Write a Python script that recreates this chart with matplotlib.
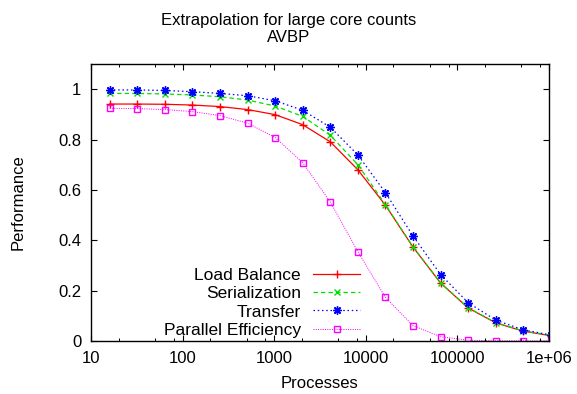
import matplotlib
matplotlib.use("Agg")
import matplotlib.pyplot as plt
import numpy as np
from matplotlib.ticker import FixedLocator, NullFormatter

plt.rcParams['font.family'] = ['Liberation Sans', 'DejaVu Sans']
plt.rcParams['font.size'] = 11

processes = [16, 32, 64, 128, 256, 512, 1024, 2048, 4096, 8192, 16384,
             32768, 65536, 131072, 262144, 524288, 1048576]
load_balance = [0.941, 0.941, 0.940, 0.937, 0.931, 0.919, 0.899, 0.859, 0.791,
                0.680, 0.539, 0.373, 0.230, 0.131, 0.072, 0.039, 0.021]
serialization = [0.983, 0.983, 0.981, 0.977, 0.970, 0.957, 0.933, 0.892, 0.817,
                 0.700, 0.541, 0.374, 0.231, 0.132, 0.073, 0.040, 0.022]
transfer = [0.997, 0.997, 0.995, 0.990, 0.983, 0.974, 0.954, 0.916, 0.849,
            0.739, 0.589, 0.417, 0.264, 0.152, 0.083, 0.044, 0.024]
parallel_eff = [0.924, 0.923, 0.919, 0.911, 0.895, 0.865, 0.808, 0.708, 0.552,
                0.355, 0.173, 0.061, 0.017, 0.003, 0.001, 0.0005, 0.0002]

labels = ["Load Balance", "Serialization", "Transfer", "Parallel Efficiency"]
xticks = [10, 100, 1000, 10000, 100000, 1000000]
xticklabels = ["10", "100", "1000", "10000", "100000", "1e+06"]
yticks = [0, 0.2, 0.4, 0.6, 0.8, 1.0]
yticklabels = ["0", "0.2", "0.4", "0.6", "0.8", "1"]

fig = plt.figure(figsize=(5.77, 3.94), dpi=100)
ax = fig.add_axes([91/577, 53/394, 458/577, 277/394])

lw = 0.9
ax.plot(processes, load_balance, color='#ff0000', lw=lw, linestyle='-',
        marker='+', markersize=6, markeredgewidth=1.0, label=labels[0])
ax.plot(processes, serialization, color='#00e000', lw=lw, linestyle=(0, (3.5, 2.5)),
        marker='x', markersize=5, markeredgewidth=1.0, label=labels[1])
ax.plot(processes, transfer, color='#0000ff', lw=lw, linestyle=(0, (1.2, 2.2)),
        marker=(8, 2, 0), markersize=6, markeredgewidth=1.0, label=labels[2])
ax.plot(processes, parallel_eff, color='#ff00ff', lw=lw*0.8, linestyle=(0, (1, 1.3)),
        marker='s', markersize=5, markerfacecolor='none', markeredgewidth=1.0,
        label=labels[3])

ax.set_xscale('log')
ax.set_xlim(10, 1e6)
ax.set_ylim(0, 1.1)
ax.xaxis.set_major_locator(FixedLocator(xticks))
ax.set_xticklabels(xticklabels)
minors = [m * 10**e for e in range(1, 6) for m in (2, 5, 8)]
ax.xaxis.set_minor_locator(FixedLocator(minors))
ax.xaxis.set_minor_formatter(NullFormatter())
ax.set_yticks(yticks)
ax.set_yticklabels(yticklabels)

ax.tick_params(which='both', direction='in', top=True, right=True)
ax.tick_params(which='major', length=4, width=0.8, pad=7, labelsize=12)
ax.tick_params(which='minor', length=2.2, width=0.7)
for s in ax.spines.values():
    s.set_linewidth(1.0)

ax.set_xlabel("Processes", fontsize=12)
ax.set_ylabel("Performance", fontsize=12)
ax.xaxis.set_label_coords(0.5, (341 - 383) / 277)
ax.yaxis.set_label_coords((18 - 91) / 458, 0.5)
ax.xaxis.label.set_va('center')
ax.yaxis.label.set_va('center')

fig.text(0.5, 1 - 20/394, "Extrapolation for large core counts", ha='center',
         va='center', fontsize=12)
fig.text(0.5, 1 - 37/394, "AVBP", ha='center', va='center', fontsize=12)

leg = ax.legend(loc='lower right', bbox_to_anchor=((360-91)/458, 0.012),
                frameon=False, markerfirst=False, handlelength=2.7,
                handletextpad=0.7, labelspacing=0.17, borderpad=0,
                borderaxespad=0, fontsize=12.5, numpoints=1)
for t in leg.get_texts():
    t.set_ha('right')

fig.savefig("out.png", dpi=100)
